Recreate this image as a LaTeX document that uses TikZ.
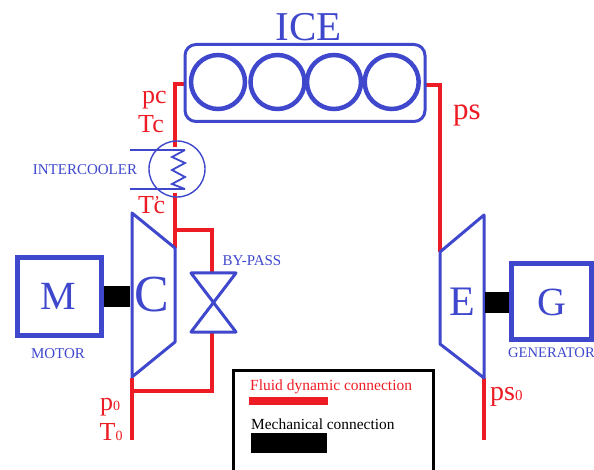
\documentclass[tikz,border=0pt]{standalone}
\usepackage{fontspec}
\setmainfont{Liberation Serif}
\definecolor{bl}{HTML}{3F48CC}
\definecolor{rd}{HTML}{ED1C24}
\newcommand{\fs}[1]{\fontsize{#1}{#1}\selectfont}
\tikzset{
  fluid/.style={draw=rd,line width=4pt,line join=miter},
  machine/.style={draw=bl,line width=3pt,line join=round,line cap=round},
  thinline/.style={draw=bl,line width=1.4pt},
  box/.style={draw=bl,line width=5pt,inner sep=0pt,outer sep=0pt,rectangle},
  cyl/.style={circle,draw=bl,line width=4.5pt,minimum size=54pt,inner sep=0pt,outer sep=0pt},
  shaft/.style={fill=black,inner sep=0pt,outer sep=0pt,rectangle},
  bluetxt/.style={text=bl,inner sep=0pt,font=\fs{15}},
  redtxt/.style={text=rd,inner sep=0pt,font=\fs{26}},
}
\begin{document}
\begin{tikzpicture}[x=1pt,y=-1pt]
\useasboundingbox (0,0) rectangle (594,470);
\clip (0,0) rectangle (594,470);
\fill[white] (0,0) rectangle (594,470);
% named points
\coordinate (iceL) at (185,84);
\coordinate (cornerL) at (175,84);
\coordinate (icTop) at (175,147);
\coordinate (icBot) at (175,193);
\coordinate (cOut) at (175,248);
\coordinate (byTop) at (175,230);
\coordinate (vTL) at (191,273);
\coordinate (vTR) at (236,273);
\coordinate (vBL) at (191,332);
\coordinate (vBR) at (236,332);
\coordinate (vTop) at (212,273);
\coordinate (vBot) at (212,332);
\coordinate (byBot) at (132,391);
\coordinate (cIn) at (132,378);
\coordinate (cInEnd) at (132,440);
\coordinate (iceR) at (425,85);
\coordinate (eIn) at (440,252);
\coordinate (eOut) at (483.5,378);
\coordinate (eOutEnd) at (483.5,440);
% fluid lines
\draw[fluid] (iceL) -- (cornerL) -- (icTop);
\draw[fluid] (icBot) -- (cOut);
\draw[fluid] (byTop) -| (vTop);
\draw[fluid] (vBot) |- (byBot);
\draw[fluid] (cIn) -- (cInEnd);
\draw[fluid] (iceR) -| (eIn);
\draw[fluid] (eOut) -- (eOutEnd);
% engine
\node[draw=bl,line width=3pt,rounded corners=11pt,minimum width=240pt,minimum height=77pt,inner sep=0pt,outer sep=0pt,fill=white] (ice) at (305,83) {};
\node[cyl] (c1) at (218,82) {};
\node[cyl] (c2) at (277.5,82) {};
\node[cyl] (c3) at (334,82) {};
\node[cyl] (c4) at (391.7,82) {};
\node[text=bl,inner sep=0pt,font=\fs{41}] (icelabel) at (308.5,27) {ICE};
% intercooler
\node[circle,thinline,minimum size=56pt,inner sep=0pt,outer sep=0pt] (ic) at (177,169) {};
\draw[thinline] (130,150) -- (185,150);
\draw[thinline] (130,189) -- (185,189);
\draw[draw=bl,line width=1.8pt,line join=miter] (185,150) -- (172,157) -- (185,163) -- (172,170) -- (185,177) -- (172,184) -- (185,189);
\node[bluetxt] (iclabel) at (85,170) {INTERCOOLER};
% compressor
\draw[machine] (132,213) -- (175,248) -- (175,342) -- (132,377) -- cycle;
\node[text=bl,inner sep=0pt,font=\fs{52}] (clabel) at (152,295) {C};
% expander
\draw[machine] (440,252) -- (484,215) -- (484,378) -- (440,344) -- cycle;
\node[text=bl,inner sep=0pt,font=\fs{42}] (elabel) at (462,302) {E};
% valve
\draw[machine] (vTL) -- (vTR) -- (vBL) -- (vBR) -- cycle;
\node[bluetxt] (bplabel) at (252,261) {BY-PASS};
% motor and generator
\node[box,minimum width=84pt,minimum height=78pt] (M) at (59.5,296.5) {};
\node[text=bl,inner sep=0pt,font=\fs{40}] (Mlab) at (58,296) {M};
\node[shaft,minimum width=26pt,minimum height=21pt] (s1) at (117,296.5) {};
\node[bluetxt] (mlabel) at (58,354) {MOTOR};
\node[box,minimum width=80pt,minimum height=75pt] (Gen) at (551,301.5) {};
\node[text=bl,inner sep=0pt,font=\fs{40}] (Glab) at (551.5,302) {G};
\node[shaft,minimum width=24pt,minimum height=21pt] (s2) at (497,302.5) {};
\node[bluetxt,anchor=west,font=\fs{14.6}] (glabel) at (508,353) {GENERATOR};
% labels
\node[redtxt,anchor=west] (pc) at (142,100) {pc};
\node[redtxt,anchor=west] (Tc) at (138,124) {Tc};
\node[redtxt,anchor=west] (Tpc) at (138,205) {T\raisebox{5pt}{\fs{18}'}\kern-6.5pt c};
\node[redtxt,anchor=west,font=\fs{31}] (ps) at (453,115) {ps};
\node[redtxt,anchor=west] (p0) at (100,407) {p{\fs{14}0}};
\node[redtxt,anchor=west] (T0) at (99.5,432) {T{\fs{14}0}};
\node[redtxt,anchor=west,font=\fs{28}] (ps0) at (490,397) {ps{\fs{15}0}};
% legend
\draw[black,line width=3pt] (233.5,490) -- (233.5,370.5) -- (433,370.5) -- (433,490);
\node[text=rd,inner sep=0pt,anchor=west,font=\fs{15.5}] (l1) at (250,387) {Fluid dynamic connection};
\node[fill=rd,inner sep=0pt,minimum width=79pt,minimum height=7.5pt] (b1) at (288.5,401) {};
\node[text=black,inner sep=0pt,anchor=west,font=\fs{15.4}] (l2) at (251,424) {Mechanical connection};
\node[shaft,minimum width=76.5pt,minimum height=20pt] (b2) at (288.75,443) {};
\end{tikzpicture}
\end{document}
